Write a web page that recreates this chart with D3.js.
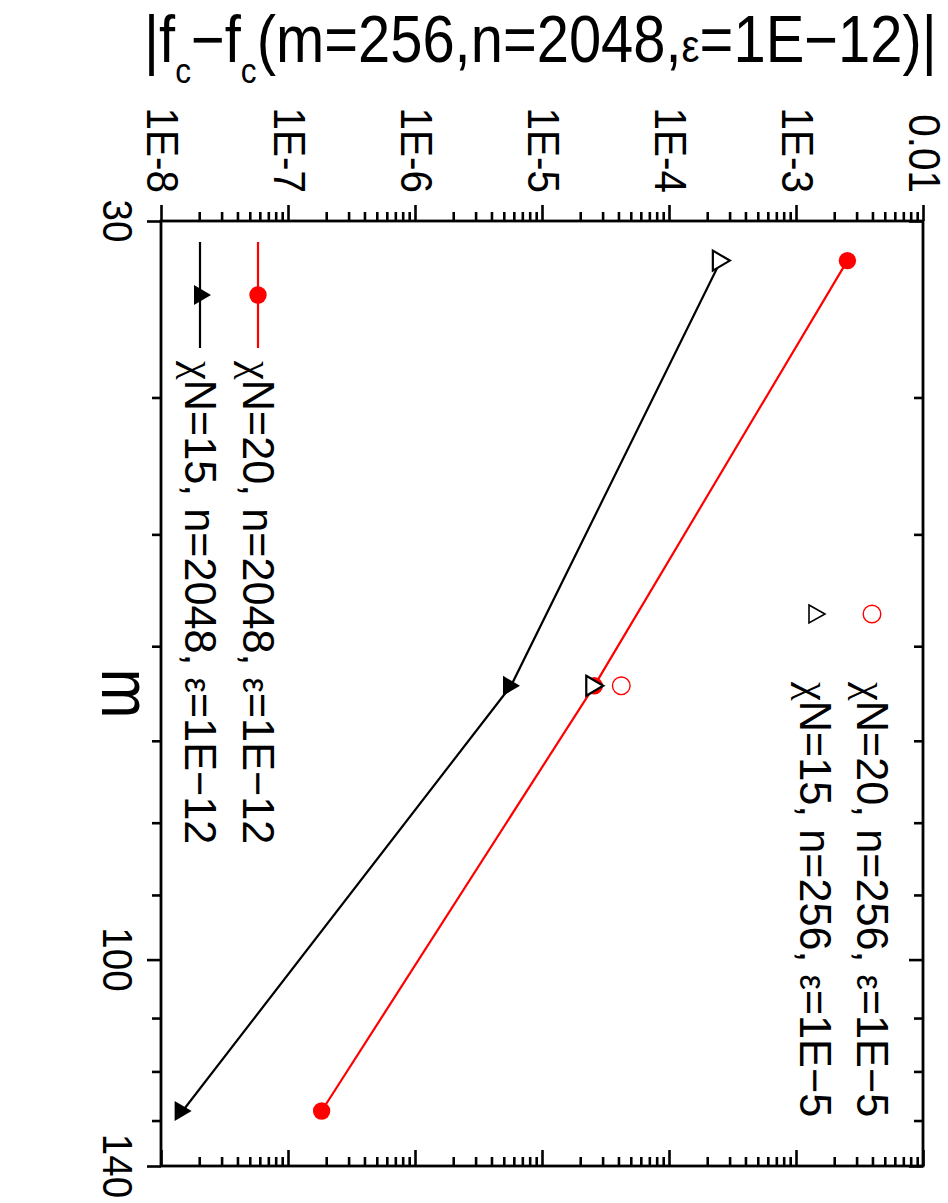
<!DOCTYPE html>
<html><head><meta charset="utf-8">
<script src="https://cdn.jsdelivr.net/npm/d3@7"></script>
<style>
body{margin:0;background:#fff}
svg{display:block}
text{font-family:"Liberation Sans",Arial,Helvetica,sans-serif;fill:#000}
</style>
</head><body>
<svg id="c" width="948" height="1203"></svg>
<script>
// ---- data ----
const mValues = [32, 64, 128];
const chi20n2048 = [2.54e-3, 2.58e-5, 1.84e-7];
const chi15n2048 = [2.56e-4, 5.7e-6, 1.48e-8];
const mValues256 = [32, 64];
const chi15n256 = [2.56e-4, 2.58e-5];
const mChi20n256 = [64];
const chi20n256 = [4.21e-5];
const yTickValues = [1e-8, 1e-7, 1e-6, 1e-5, 1e-4, 1e-3, 1e-2];
const yTickLabels = ["1E-8", "1E-7", "1E-6", "1E-5", "1E-4", "1E-3", "0.01"];
const mTickValues = [30, 100, 140];
const mTickLabels = ["30", "100", "140"];
const mMinorValues = [40, 50, 60, 70, 80, 90, 110, 120, 130];

const svg = d3.select("#c");
const X0 = 161, X1 = 923, Y0 = 221, Y1 = 1166;
const v = d3.scaleLog().domain([1e-8, 1e-2]).range([X0, X1]);
const mm = d3.scaleLog().domain([30, 140]).range([Y0, Y1]);

const yMinor = [];
for (let i = 0; i < yTickValues.length - 1; i++) for (let k = 2; k <= 9; k++) yMinor.push(yTickValues[i] * k);

function styleAxis(g) {
  g.select(".domain").remove();
  g.selectAll(".tick line").attr("stroke", "#000").attr("stroke-width", 2.6);
}
// top (outward) and bottom (inward) log ticks
[Y0, Y1].forEach(yy => {
  svg.append("g").attr("transform", `translate(0,${yy})`)
    .call(d3.axisTop(v).tickValues(yTickValues).tickSize(16).tickFormat("")).call(styleAxis);
  svg.append("g").attr("transform", `translate(0,${yy})`)
    .call(d3.axisTop(v).tickValues(yMinor).tickSize(9).tickFormat("")).call(styleAxis);
});
// left (outward) and right (inward) m ticks
[X0, X1].forEach(xx => {
  svg.append("g").attr("transform", `translate(${xx},0)`)
    .call(d3.axisLeft(mm).tickValues(mTickValues).tickSize(14).tickFormat("")).call(styleAxis);
  svg.append("g").attr("transform", `translate(${xx},0)`)
    .call(d3.axisLeft(mm).tickValues(mMinorValues).tickSize(9).tickFormat("")).call(styleAxis);
});

svg.append("rect").attr("x", X0).attr("y", Y0).attr("width", X1 - X0).attr("height", Y1 - Y0)
  .attr("fill", "none").attr("stroke", "#000").attr("stroke-width", 2.8);

// rotated text helper (reads downward, glyph tops point right)
function rtext(x, y, size, anchor, sx, build) {
  const g = svg.append("g").attr("transform", `translate(${x},${y}) rotate(90) scale(${sx},1)`);
  const t = g.append("text").attr("font-size", size).attr("text-anchor", anchor);
  build(t);
  return t;
}

// y tick labels
yTickValues.forEach((val, i) => {
  rtext(v(val) - 14, 193, 44, "end", 0.92, t => t.text(yTickLabels[i]));
});
// m tick labels
mTickValues.forEach((val, i) => {
  rtext(103, mm(val), 42, "middle", 0.92, t => t.text(mTickLabels[i]));
});
// m axis title
rtext(102, (Y0 + Y1) / 2, 70, "middle", 0.85, t => t.text("m"));

// title
{
  const g = svg.append("g");
  const t = g.append("text").attr("font-size", 66);
  t.append("tspan").text("|f");
  t.append("tspan").attr("font-size", 36).attr("dy", 21).text("c");
  t.append("tspan").attr("dy", -21).text("\u2212f");
  t.append("tspan").attr("font-size", 36).attr("dy", 21).text("c");
  t.append("tspan").attr("dy", -21).text("(m=256,n=2048,");
  t.append("tspan").attr("font-size", 46).text("\u03b5");
  t.append("tspan").text("=1E\u221212)|");
  const w = t.node().getComputedTextLength();
  g.attr("transform", `translate(144,62) scale(${793 / w},1)`);
}

// data lines
const line = d3.line().x(d => v(d[1])).y(d => mm(d[0]));
const red = "#ff0000";
svg.append("path").datum(d3.zip(mValues, chi20n2048)).attr("d", line)
  .attr("fill", "none").attr("stroke", red).attr("stroke-width", 2.2);
svg.append("path").datum(d3.zip(mValues, chi15n2048)).attr("d", line)
  .attr("fill", "none").attr("stroke", "#000").attr("stroke-width", 2.2);

const triPath = "M-8,-10L9,0L-8,10Z";
// filled series
svg.selectAll(".rf").data(d3.zip(mValues, chi20n2048)).join("circle")
  .attr("cx", d => v(d[1])).attr("cy", d => mm(d[0])).attr("r", 8.7).attr("fill", red);
svg.selectAll(".bf").data(d3.zip(mValues, chi15n2048)).join("path")
  .attr("transform", d => `translate(${v(d[1])},${mm(d[0])})`).attr("d", triPath).attr("fill", "#000");
// open series
svg.selectAll(".ro").data(d3.zip(mChi20n256, chi20n256)).join("circle")
  .attr("cx", d => v(d[1])).attr("cy", d => mm(d[0])).attr("r", 8.8)
  .attr("fill", "#fff").attr("stroke", red).attr("stroke-width", 1.4);
svg.selectAll(".bo").data(d3.zip(mValues256, chi15n256)).join("path")
  .attr("transform", d => `translate(${v(d[1])},${mm(d[0])})`).attr("d", triPath)
  .attr("fill", "#fff").attr("stroke", "#000").attr("stroke-width", 2.2);

// legend texts
function legText(t, chiN, n, eps) {
  t.append("tspan").attr("font-family", "'Liberation Serif','DejaVu Serif',serif").attr("font-size", 44).text("\u03c7");
  t.append("tspan").text(`N=${chiN}, n=${n}, `);
  t.append("tspan").attr("font-size", 36).text("\u03b5");
  t.append("tspan").text(`=1E\u2212${eps}`);
}
// legend 1 (scatter)
svg.append("circle").attr("cx", 872).attr("cy", 614).attr("r", 8.8)
  .attr("fill", "#fff").attr("stroke", red).attr("stroke-width", 1.4);
svg.append("path").attr("transform", "translate(817,614)").attr("d", "M-8,-9L8,0L-8,9Z")
  .attr("fill", "#fff").attr("stroke", "#000").attr("stroke-width", 1.6);
rtext(857, 682, 45, "start", 0.96, t => legText(t, 20, 256, 5));
rtext(800, 682, 45, "start", 0.96, t => legText(t, 15, 256, 5));

// legend 2 (line + symbol)
svg.append("line").attr("x1", 258).attr("x2", 258).attr("y1", 242).attr("y2", 348)
  .attr("stroke", red).attr("stroke-width", 2.2);
svg.append("circle").attr("cx", 258).attr("cy", 295).attr("r", 8.7).attr("fill", red);
svg.append("line").attr("x1", 200).attr("x2", 200).attr("y1", 242).attr("y2", 348)
  .attr("stroke", "#000").attr("stroke-width", 2.2);
svg.append("path").attr("transform", "translate(202,295)").attr("d", triPath).attr("fill", "#000");
rtext(243, 361, 45, "start", 0.96, t => legText(t, 20, 2048, 12));
rtext(185, 361, 45, "start", 0.96, t => legText(t, 15, 2048, 12));
</script>
</body></html>
